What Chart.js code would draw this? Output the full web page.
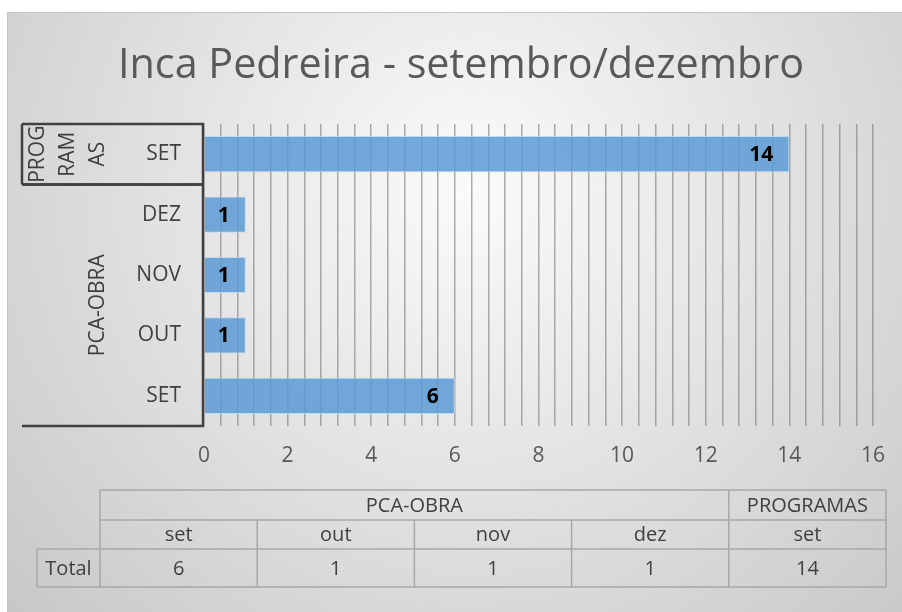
<!DOCTYPE html>
<html>
<head>
<meta charset="utf-8">
<title>Inca Pedreira</title>
<script src="https://cdn.jsdelivr.net/npm/chart.js@4"></script>
<style>
  html, body { margin: 0; padding: 0; background: #fff; }
</style>
</head>
<body>
<canvas id="chart" width="902" height="612"></canvas>
<script>
// data
const chartTitle = 'Inca Pedreira - setembro/dezembro';
const months = ['set', 'out', 'nov', 'dez', 'set'];
const groups = ['PCA-OBRA', 'PCA-OBRA', 'PCA-OBRA', 'PCA-OBRA', 'PROGRAMAS'];
const totals = [6, 1, 1, 1, 14];
const rowLabel = 'Total';
const xTicks = [0, 2, 4, 6, 8, 10, 12, 14, 16];

const FONT = '"Open Sans", "Noto Sans", sans-serif';
const TEXT = '#404040';
const AXIS_LEFT = 22;

// runs of equal group names -> [{name, start, end}]
function groupRuns() {
  const runs = [];
  groups.forEach((g, i) => {
    const last = runs[runs.length - 1];
    if (last && last.name === g) last.end = i;
    else runs.push({ name: g, start: i, end: i });
  });
  return runs;
}

const background = {
  id: 'background',
  beforeDraw(chart) {
    const ctx = chart.ctx;
    ctx.save();
    ctx.fillStyle = '#fff';
    ctx.fillRect(0, 0, chart.width, chart.height);
    const g = ctx.createRadialGradient(470, 190, 0, 470, 190, 620);
    g.addColorStop(0, '#fbfbfb');
    g.addColorStop(0.45, '#e4e4e4');
    g.addColorStop(1, '#c8c8c8');
    ctx.fillStyle = g;
    ctx.fillRect(7, 12, chart.width - 7, chart.height - 12);
    ctx.strokeStyle = '#c4c4c4';
    ctx.lineWidth = 1;
    ctx.beginPath();
    ctx.moveTo(7.5, chart.height);
    ctx.lineTo(7.5, 12.5);
    ctx.lineTo(chart.width, 12.5);
    ctx.stroke();

    // title, squeezed a little to get the narrow look of the original
    ctx.font = '42px ' + FONT;
    const w = ctx.measureText(chartTitle).width;
    const sx = Math.min(1, 686 / w);
    ctx.translate(461, 78);
    ctx.scale(sx, 1);
    ctx.fillStyle = '#595959';
    ctx.textAlign = 'center';
    ctx.textBaseline = 'alphabetic';
    ctx.fillText(chartTitle, 0, 0);
    ctx.restore();
  }
};

const barLabels = {
  id: 'barLabels',
  afterDatasetsDraw(chart) {
    const ctx = chart.ctx;
    const meta = chart.getDatasetMeta(0);
    ctx.save();
    ctx.font = 'bold 21px ' + FONT;
    ctx.fillStyle = '#000';
    ctx.textAlign = 'right';
    ctx.textBaseline = 'middle';
    meta.data.forEach((bar, i) => {
      ctx.fillText(String(totals[i]), bar.x - 16, bar.y + 1);
    });
    ctx.restore();
  }
};

const groupAxis = {
  id: 'groupAxis',
  afterDraw(chart) {
    const ctx = chart.ctx;
    const y = chart.scales.y;
    const area = chart.chartArea;
    const band = Math.abs(y.getPixelForValue(1) - y.getPixelForValue(0));
    ctx.save();
    ctx.strokeStyle = '#404040';
    ctx.lineWidth = 2.5;
    ctx.fillStyle = TEXT;
    ctx.font = '21px ' + FONT;
    groupRuns().forEach(run => {
      const a = y.getPixelForValue(run.start);
      const b = y.getPixelForValue(run.end);
      const top = Math.min(a, b) - band / 2;
      const bottom = Math.max(a, b) + band / 2;
      ctx.beginPath();
      ctx.moveTo(AXIS_LEFT, top);
      ctx.lineTo(area.left, top);
      ctx.moveTo(AXIS_LEFT, bottom);
      ctx.lineTo(area.left, bottom);
      ctx.stroke();

      // wrap the rotated name by characters when it is taller than its band
      const room = bottom - top - 2;
      const lines = [];
      let cur = '';
      for (const ch of run.name) {
        if (cur && ctx.measureText(cur + ch).width > room) { lines.push(cur); cur = ch; }
        else cur += ch;
      }
      lines.push(cur);
      if (lines.length > 1) {
        ctx.beginPath();
        ctx.moveTo(AXIS_LEFT, top);
        ctx.lineTo(AXIS_LEFT, bottom);
        ctx.stroke();
      }
      const mid = (top + bottom) / 2;
      lines.forEach((ln, k) => {
        const cx = 98 - (lines.length - 1 - k) * 30;
        ctx.save();
        ctx.translate(cx, mid);
        ctx.rotate(-Math.PI / 2);
        ctx.textAlign = 'center';
        ctx.textBaseline = 'middle';
        ctx.fillText(ln, 0, 0);
        ctx.restore();
      });
    });
    ctx.beginPath();
    ctx.moveTo(area.left - 1, area.top - 1);
    ctx.lineTo(area.left - 1, area.bottom + 1);
    ctx.stroke();
    ctx.restore();
  }
};

const dataTable = {
  id: 'dataTable',
  afterDraw(chart) {
    const ctx = chart.ctx;
    const left = 100, right = 886, labelLeft = 37;
    const rows = [490, 520, 549, 587];
    const colW = (right - left) / months.length;
    const colX = i => left + i * colW;
    ctx.save();
    ctx.strokeStyle = '#a8a8a8';
    ctx.lineWidth = 1.5;
    ctx.beginPath();
    // horizontal rules
    ctx.moveTo(left, rows[0]); ctx.lineTo(right, rows[0]);
    ctx.moveTo(left, rows[1]); ctx.lineTo(right, rows[1]);
    ctx.moveTo(labelLeft, rows[2]); ctx.lineTo(right, rows[2]);
    ctx.moveTo(labelLeft, rows[3]); ctx.lineTo(right, rows[3]);
    // verticals
    ctx.moveTo(labelLeft, rows[2]); ctx.lineTo(labelLeft, rows[3]);
    ctx.moveTo(left, rows[0]); ctx.lineTo(left, rows[3]);
    ctx.moveTo(right, rows[0]); ctx.lineTo(right, rows[3]);
    groupRuns().forEach(run => {
      if (run.start > 0) { ctx.moveTo(colX(run.start), rows[0]); ctx.lineTo(colX(run.start), rows[1]); }
    });
    for (let i = 1; i < months.length; i++) {
      ctx.moveTo(colX(i), rows[1]); ctx.lineTo(colX(i), rows[3]);
    }
    ctx.stroke();

    ctx.fillStyle = TEXT;
    ctx.font = '20px ' + FONT;
    ctx.textAlign = 'center';
    ctx.textBaseline = 'middle';
    const mid = r => (rows[r] + rows[r + 1]) / 2 + 1;
    groupRuns().forEach(run => {
      ctx.fillText(run.name, (colX(run.start) + colX(run.end + 1)) / 2, mid(0));
    });
    months.forEach((m, i) => {
      ctx.fillText(m, colX(i) + colW / 2, mid(1));
      ctx.fillText(String(totals[i]), colX(i) + colW / 2, mid(2));
    });
    ctx.fillText(rowLabel, (labelLeft + left) / 2, mid(2));
    ctx.restore();
  }
};

new Chart(document.getElementById('chart'), {
  type: 'bar',
  data: {
    labels: months.map(m => m.toUpperCase()),
    datasets: [{
      label: rowLabel,
      data: totals,
      backgroundColor: 'rgba(91,155,213,0.85)',
      borderColor: 'rgba(190,215,238,0.95)',
      borderWidth: 1,
      borderSkipped: 'start',
      categoryPercentage: 1,
      barPercentage: 0.6
    }]
  },
  options: {
    indexAxis: 'y',
    responsive: false,
    animation: false,
    layout: { padding: { top: 124, right: 29, bottom: 0, left: 0 } },
    plugins: {
      legend: { display: false },
      title: { display: false },
      tooltip: { enabled: false }
    },
    scales: {
      x: {
        min: 0,
        max: 16,
        grid: { color: 'rgba(120,120,120,0.6)', lineWidth: 1.5, drawTicks: false },
        border: { display: false },
        afterFit: scale => { scale.height = 186; },
        ticks: {
          stepSize: 0.4,
          autoSkip: false,
          maxRotation: 0,
          padding: 17,
          color: '#595959',
          font: { family: FONT, size: 21 },
          callback: v => {
            const t = xTicks.find(k => Math.abs(k - v) < 1e-6);
            return t === undefined ? '' : String(t);
          }
        }
      },
      y: {
        reverse: true,
        grid: { display: false, drawTicks: false },
        border: { display: false },
        afterFit: scale => { scale.width = 204; },
        ticks: {
          padding: 23,
          color: TEXT,
          font: { family: FONT, size: 21 }
        }
      }
    }
  },
  plugins: [background, barLabels, groupAxis, dataTable]
});
</script>
</body>
</html>
